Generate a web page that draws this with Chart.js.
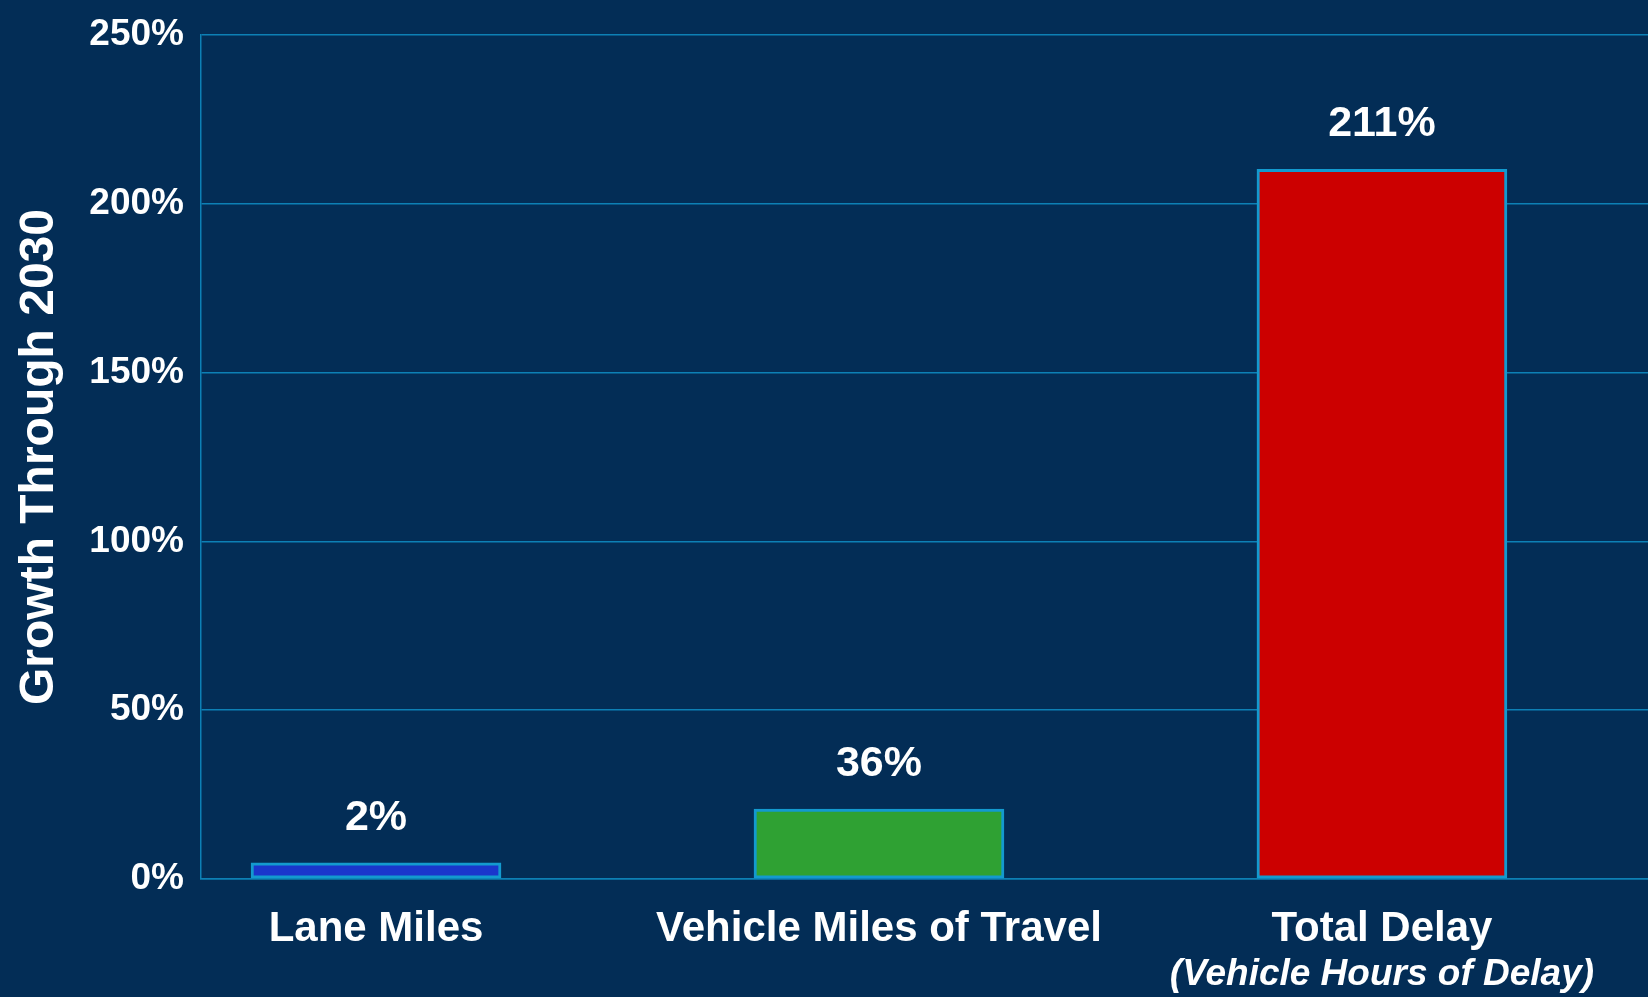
<!DOCTYPE html>
<html>
<head>
<meta charset="utf-8">
<script src="https://cdn.jsdelivr.net/npm/chart.js@4"></script>
<style>
  html, body { margin: 0; padding: 0; background: #032d56; }
  #wrap { width: 1648px; height: 997px; }
</style>
</head>
<body>
<div id="wrap"><canvas id="chart"></canvas></div>
<script>
// chart data
var categories = ['Lane Miles', 'Vehicle Miles of Travel', 'Total Delay'];
var subLabels = ['', '', '(Vehicle Hours of Delay)'];
var barValues = [4.8, 20.7, 210.2];
var valueLabels = ['2%', '36%', '211%'];
var barColors = ['#1a36cc', '#2fa133', '#cc0000'];
var yTicks = [0, 50, 100, 150, 200, 250];

var gridColor = '#0d80b5';
var edgeColor = '#139acf';
var fontFamily = 'Arial, "Liberation Sans", sans-serif';

// value labels above bars, italic second line under last category
var labelPlugin = {
    id: 'labels',
    afterDatasetsDraw: function (chart) {
        var ctx = chart.ctx;
        var meta = chart.getDatasetMeta(0);
        ctx.save();
        ctx.fillStyle = '#ffffff';
        ctx.font = 'bold 43px ' + fontFamily;
        ctx.textAlign = 'center';
        ctx.textBaseline = 'middle';
        meta.data.forEach(function (bar, i) {
            ctx.fillText(valueLabels[i], bar.x, bar.y - 45);
        });
        ctx.font = 'italic bold 37px ' + fontFamily;
        var xs = chart.scales.x;
        subLabels.forEach(function (txt, i) {
            if (txt) ctx.fillText(txt, xs.getPixelForValue(i), 975);
        });
        ctx.restore();
    }
};

var points = barValues.map(function (v, i) { return { x: i, y: v }; });

new Chart(document.getElementById('chart'), {
    type: 'bar',
    data: {
        datasets: [{
            data: points,
            backgroundColor: barColors,
            borderColor: edgeColor,
            borderWidth: 3,
            borderSkipped: false,
            barThickness: 250
        }]
    },
    options: {
        responsive: true,
        maintainAspectRatio: false,
        animation: false,
        layout: { padding: { top: 35, right: 0, left: 0, bottom: 0 } },
        plugins: { legend: { display: false }, tooltip: { enabled: false } },
        scales: {
            x: {
                type: 'linear',
                offset: false,
                min: -0.348,
                max: 2.529,
                grid: { display: false, drawTicks: false, offset: false },
                border: { display: true, color: gridColor, width: 1.5 },
                afterBuildTicks: function (scale) {
                    scale.ticks = categories.map(function (c, i) { return { value: i }; });
                },
                afterFit: function (scale) { scale.height = 118; },
                ticks: {
                    autoSkip: false,
                    maxRotation: 0,
                    padding: 25,
                    color: '#ffffff',
                    font: { family: fontFamily, size: 42, weight: 'bold' },
                    callback: function (v) { return categories[v]; }
                }
            },
            y: {
                min: 0,
                max: 250,
                afterBuildTicks: function (scale) {
                    scale.ticks = yTicks.map(function (v) { return { value: v }; });
                },
                afterFit: function (scale) {
                    scale.width = 201;
                    scale.paddingTop = 0;
                },
                grid: { color: gridColor, lineWidth: 1.5, drawTicks: false },
                border: { display: true, color: gridColor, width: 1.5 },
                ticks: {
                    padding: 17,
                    color: '#ffffff',
                    font: { family: fontFamily, size: 37, weight: 'bold' },
                    callback: function (v) { return v + '%'; }
                },
                title: {
                    display: true,
                    text: 'Growth Through 2030',
                    color: '#ffffff',
                    padding: { top: 11, bottom: 0 },
                    font: { family: fontFamily, size: 48, weight: 'bold' }
                }
            }
        }
    },
    plugins: [labelPlugin]
});
</script>
</body>
</html>
